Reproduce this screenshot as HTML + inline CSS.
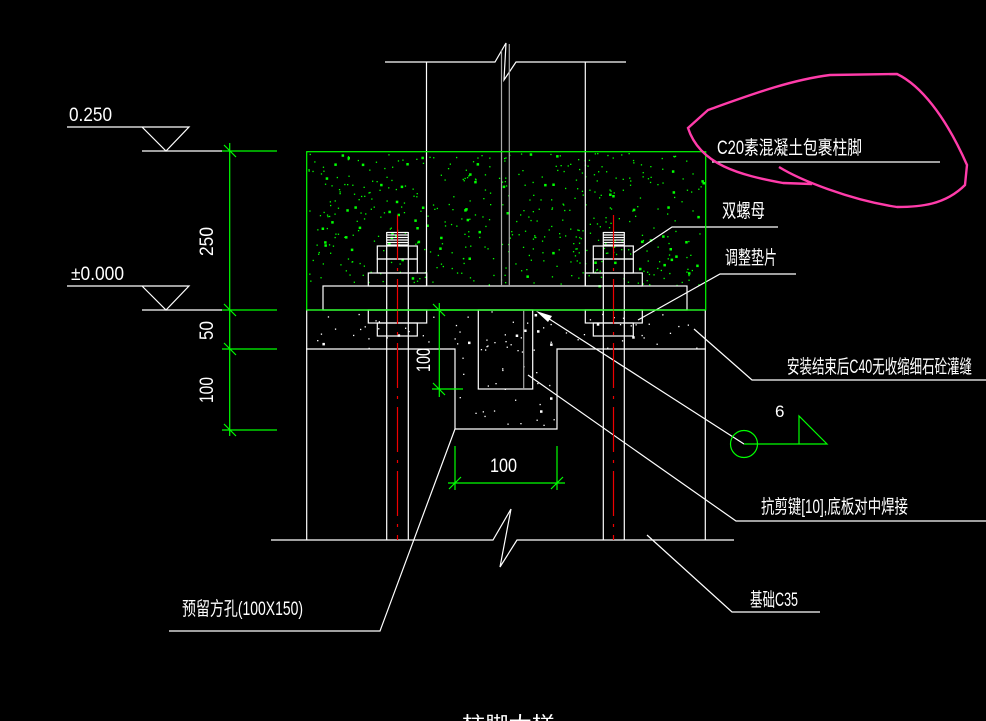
<!DOCTYPE html>
<html><head><meta charset="utf-8"><style>
html,body{margin:0;padding:0;background:#000;}
svg{display:block}
text{font-family:"Liberation Sans","Noto Sans CJK SC",sans-serif;fill:#fff;}
</style></head><body>
<svg id="s" width="986" height="721" viewBox="0 0 986 721" xmlns="http://www.w3.org/2000/svg">
<rect width="986" height="721" fill="#000"/>
<g id="specks"></g>
<g stroke="#fff" stroke-width="1.2" fill="none">
<!-- column top -->
<polyline points="385,62 495,62 506,43 504,80 516,62 626,62"/>
<line x1="426.5" y1="62" x2="426.5" y2="286"/>
<line x1="585.3" y1="62" x2="585.3" y2="286"/>
<!-- base plate -->
<rect x="323" y="286" width="364" height="24"/>
<!-- grout / pedestal -->
<line x1="306" y1="310" x2="706" y2="310"/>
<polyline points="306,349 455,349 455,429 557,429 557,349 706,349"/>
<line x1="306.7" y1="310" x2="306.7" y2="540"/>
<line x1="705.3" y1="310" x2="705.3" y2="540"/>
<rect x="478.3" y="310" width="54.4" y="310" height="79"/>
<!-- bottom break line -->
<polyline points="271,540 493,540 511,509 500,567 517,540 734,540"/>
<!-- left bolt -->
<line x1="386.7" y1="232" x2="386.7" y2="540"/>
<line x1="408.3" y1="232" x2="408.3" y2="540"/>
<rect x="377.3" y="246" width="40" height="13"/><rect x="377.3" y="259" width="40" height="14"/>
<rect x="368.3" y="273" width="58.4" height="13"/>
<rect x="368.3" y="310" width="58.4" height="13"/><rect x="377.3" y="323" width="40" height="13"/>
<!-- right bolt -->
<line x1="603.3" y1="232" x2="603.3" y2="540"/>
<line x1="624.3" y1="232" x2="624.3" y2="540"/>
<rect x="593.3" y="246" width="40" height="13"/><rect x="593.3" y="259" width="40" height="14"/>
<rect x="585.3" y="273" width="57" height="13"/>
<rect x="585.3" y="310" width="57" height="13"/><rect x="593.3" y="323" width="40" height="13"/>
<!-- threads -->
<path d="M386.7 232.5H408.3M386.7 235H408.3M386.7 237.5H408.3M386.7 240H408.3M386.7 242.5H408.3M386.7 245H408.3M603.3 232.5H624.3M603.3 235H624.3M603.3 237.5H624.3M603.3 240H624.3M603.3 242.5H624.3M603.3 245H624.3"/>
<!-- elevation marks -->
<polyline points="67,127 189,127 166,151 142,127"/><line x1="142" y1="151" x2="222" y2="151"/>
<polyline points="67,286 189,286 166,310 142,286"/><line x1="142" y1="310" x2="222" y2="310"/>
<!-- leaders -->
<polyline points="633,253 672,227 778,227"/>
<polyline points="638,320 720,274 796,274"/>
<polyline points="694,329 752,380 986,380"/>
<polyline points="528,375 736,521 986,521"/>
<polyline points="647,535 732,612 820,612"/>
<polyline points="455,429 380,631 169,631"/>
<line x1="540" y1="313" x2="744" y2="444"/>
<line x1="712" y1="162" x2="940" y2="162"/>
</g>
<polygon points="536,311 552,316 548,322" fill="#fff"/>
<g stroke="#aaa" stroke-width="1.2">
<line x1="501.5" y1="50" x2="501.5" y2="286"/><line x1="509.3" y1="44" x2="509.3" y2="286"/>
<line x1="523.7" y1="310" x2="523.7" y2="389"/>
</g>
<g stroke="#e00" stroke-width="1.2" stroke-dasharray="45,8,3,8">
<line x1="397.5" y1="215" x2="397.5" y2="540"/><line x1="613.5" y1="215" x2="613.5" y2="540"/>
</g>
<g stroke="#0f0" stroke-width="1.2" fill="none">
<rect x="306.7" y="151.7" width="399" height="158.3"/>
<line x1="229.7" y1="143" x2="229.7" y2="436"/>
<path d="M222 151H277M222 310H277M222 349H277M222 430H277"/>
<path d="M224 145L236 157M224 304L236 316M224 343L236 355M224 424L236 436"/>
<line x1="439.3" y1="303" x2="439.3" y2="397"/>
<path d="M432 310H461M432 389H463M433 304L445 316M433 383L445 395"/>
<path d="M455 446V490M557 446V490M448 483H565M449 489L461 477M551 489L563 477"/>
<circle cx="744" cy="444" r="13.5"/>
<polyline points="744,444 827,444 799,416 799,444"/>
</g>
<path d="M812,184 L783,183 C740,175 700,165 688,128 L708,110 C750,95 790,80 830,75 L897,74 C920,85 945,115 967,165 L965,185 C945,205 920,207 897,207 C850,200 800,180 779,167" stroke="#ff3caa" stroke-width="2.4" fill="none"/>
<g font-size="19">
<text x="69" y="121" textLength="43" lengthAdjust="spacingAndGlyphs">0.250</text>
<text x="71" y="280" textLength="53" lengthAdjust="spacingAndGlyphs">±0.000</text>
<text transform="translate(213,256) rotate(-90)" textLength="29" lengthAdjust="spacingAndGlyphs">250</text>
<text transform="translate(213,340) rotate(-90)" textLength="19" lengthAdjust="spacingAndGlyphs">50</text>
<text transform="translate(213,403) rotate(-90)" textLength="26" lengthAdjust="spacingAndGlyphs">100</text>
<text transform="translate(430,372) rotate(-90)" textLength="24" lengthAdjust="spacingAndGlyphs">100</text>
<text x="490" y="472" textLength="27" lengthAdjust="spacingAndGlyphs">100</text>
<text x="775" y="417" font-size="17">6</text>
<text x="717" y="154" textLength="145" lengthAdjust="spacingAndGlyphs">C20素混凝土包裹柱脚</text>
<text x="722" y="217" textLength="43" lengthAdjust="spacingAndGlyphs">双螺母</text>
<text x="725" y="264" textLength="52" lengthAdjust="spacingAndGlyphs">调整垫片</text>
<text x="787" y="373" textLength="185" lengthAdjust="spacingAndGlyphs">安装结束后C40无收缩细石砼灌缝</text>
<text x="761" y="513" textLength="147" lengthAdjust="spacingAndGlyphs">抗剪键[10],底板对中焊接</text>
<text x="750" y="606" textLength="48" lengthAdjust="spacingAndGlyphs">基础C35</text>
<text x="182" y="615" textLength="121" lengthAdjust="spacingAndGlyphs">预留方孔(100X150)</text>
<text x="462" y="730" textLength="93" lengthAdjust="spacingAndGlyphs">柱脚大样</text>
</g>
</svg>
<script>
(function(){
var g=document.getElementById('specks'),ns='http://www.w3.org/2000/svg',seed=7;
function r(){seed=(seed*16807)%2147483647;return seed/2147483647;}
function add(x0,y0,w,h,n,c){for(var i=0;i<n;i++){var e=document.createElementNS(ns,'rect');var s=r()<0.15?2.5:1.3;
e.setAttribute('x',(x0+r()*w).toFixed(1));e.setAttribute('y',(y0+r()*h).toFixed(1));e.setAttribute('width',s);e.setAttribute('height',s);e.setAttribute('fill',c);g.appendChild(e);}}
add(308,153,396,132,520,'#0f0');
add(308,311,396,37,70,'#fff');
add(456,349,100,79,30,'#fff');
})();
</script>
</body></html>
